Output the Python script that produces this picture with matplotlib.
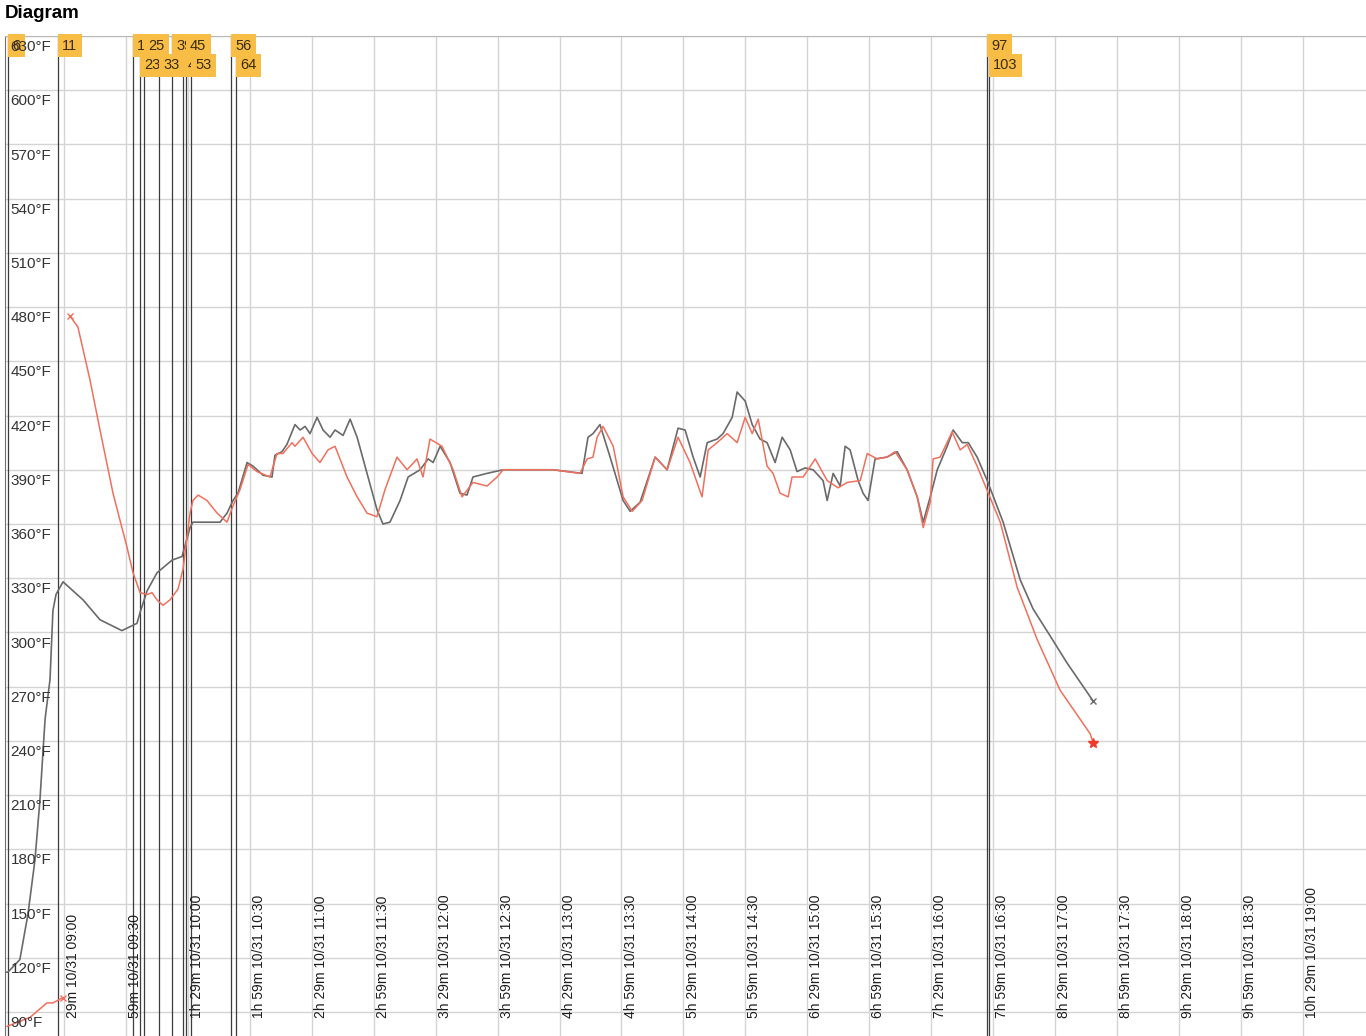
import numpy as np
import matplotlib
matplotlib.use("Agg")
import matplotlib.pyplot as plt
import matplotlib.transforms as mtransforms

plt.rcParams['font.family'] = ['Liberation Sans', 'DejaVu Sans']

# minutes since the log started (08:31 on 10/31), temperatures in degF
gray_min = [0.0, 1.9, 7.7, 11.6, 15.0, 17.4, 19.9, 22.3, 23.7, 25.2, 28.6, 38.3, 46.5, 57.1,
            64.4, 65.9, 69.3, 74.1, 81.4, 86.2, 90.1, 91.5, 104.6, 108.0, 110.9, 113.3,
            117.7, 120.6, 125.4, 129.8, 131.2, 134.6, 137.0, 140.9, 143.4, 145.8, 148.2,
            151.6, 154.5, 157.9, 160.3, 164.2, 167.6, 171.0, 175.8, 180.6, 183.5, 186.9,
            191.8, 195.7, 201.5, 205.4, 207.8, 211.2, 216.0, 220.8, 224.2, 227.1, 233.9,
            241.7, 265.9, 279.9, 282.8, 285.2, 288.6, 293.5, 299.8, 303.2, 308.0, 315.3,
            321.1, 326.4, 329.8, 333.7, 337.1, 340.5, 345.3, 348.2, 352.6, 355.0, 358.9,
            362.3, 366.1, 369.5, 373.4, 376.8, 380.7, 384.0, 387.9, 391.8, 396.6, 398.6,
            401.5, 404.9, 407.3, 409.7, 413.6, 416.0, 418.4, 421.8, 427.6, 432.5, 437.3,
            442.2, 445.1, 448.5, 451.9, 456.7, 459.6, 464.0, 466.9, 471.2, 476.1, 483.8,
            492.1, 498.3, 506.6, 514.8, 527.4]
gray_temp = [112, 112, 119, 144, 174, 207, 252, 274, 312, 321, 328, 318, 307, 301,
             305, 311, 323, 333, 340, 342, 358, 361, 361, 366, 373, 377,
             394, 392, 387, 386, 398, 400, 404, 415, 412, 414, 410,
             419, 412, 408, 412, 409, 418, 408, 388, 368, 360, 361,
             373, 386, 390, 396, 394, 403, 394, 377, 376, 386, 388,
             390, 390, 388, 408, 410, 415, 397, 373, 367, 372, 397,
             390, 413, 412, 397, 386, 405, 407, 410, 419, 433, 428,
             415, 407, 405, 394, 408, 401, 389, 391, 390, 384, 373,
             388, 381, 403, 401, 384, 377, 373, 396, 397, 400, 390,
             375, 361, 375, 390, 403, 412, 405, 405, 397, 384, 361,
             329, 313, 298, 283, 262]

red_min = [1.5, 12.6, 20.8, 23.7, 28.6, 30.0,
           32.0, 35.8, 41.6, 46.5, 52.8, 59.6, 62.5, 65.9, 69.3, 71.7, 74.1, 77.0,
           80.4, 84.3, 86.7, 90.1, 91.5, 94.0, 98.3, 103.2, 108.0, 110.9, 114.3,
           118.2, 122.5, 128.8, 132.2, 135.1, 139.5, 140.9, 144.8, 149.2, 153.0,
           156.9, 160.3, 162.7, 166.1, 171.0, 175.8, 180.6, 184.5, 190.3, 195.2,
           200.0, 202.9, 206.3, 212.1, 217.5, 221.8, 227.1, 233.9, 238.8, 241.7,
           265.9, 278.9, 282.4, 285.2, 287.2, 290.1, 295.0, 299.8, 304.2, 309.0,
           315.3, 321.1, 326.4, 332.2, 338.0, 341.0, 345.3, 350.2, 355.0, 358.9,
           362.3, 365.2, 369.5, 372.4, 375.8, 379.7, 381.6, 387.0, 392.8, 398.6,
           403.9, 408.3, 414.6, 418.0, 422.8, 427.6, 431.5, 437.3, 442.2, 445.1,
           448.5, 449.9, 453.3, 459.1, 463.0, 466.4, 471.2, 474.1, 482.4, 490.6,
           500.3, 511.4, 525.9, 527.4]
red_temp = [82, 87, 95, 95, 98, np.nan,
            475, 469, 440, 412, 377, 347, 333, 322, 321, 322, 318, 315,
            318, 324, 335, 366, 373, 376, 373, 366, 361, 370, 379,
            393, 389, 386, 399, 399, 405, 403, 408, 399, 394,
            401, 403, 396, 386, 375, 366, 364, 379, 397, 390,
            396, 386, 407, 403, 390, 375, 383, 381, 386, 390,
            390, 388, 396, 397, 408, 414, 403, 375, 367, 373,
            397, 390, 408, 394, 375, 401, 405, 410, 405, 419,
            410, 418, 392, 388, 377, 375, 386, 386, 396, 384,
            380, 383, 384, 399, 396, 397, 400, 390, 375, 358,
            372, 396, 397, 411, 401, 404, 392, 384, 361, 325,
            296, 268, 244, 239]

event_ids = ['6', '11', '19', '23', '25', '33', '39', '43', '45', '53', '56', '64', '97', '103']
event_min = [1.9, 26.2, 62.5, 65.9, 67.8, 75.1, 81.4, 86.7, 88.1, 90.6, 109.9, 112.4, 476.1, 477.0]
event_row = [0, 0, 0, 1, 0, 1, 0, 1, 0, 1, 0, 1, 0, 1]

tick_min = [29 + 30 * k for k in range(21)]
tick_labels = ['29m 10/31 09:00', '59m 10/31 09:30', '1h 29m 10/31 10:00', '1h 59m 10/31 10:30',
               '2h 29m 10/31 11:00', '2h 59m 10/31 11:30', '3h 29m 10/31 12:00',
               '3h 59m 10/31 12:30', '4h 29m 10/31 13:00', '4h 59m 10/31 13:30',
               '5h 29m 10/31 14:00', '5h 59m 10/31 14:30', '6h 29m 10/31 15:00',
               '6h 59m 10/31 15:30', '7h 29m 10/31 16:00', '7h 59m 10/31 16:30',
               '8h 29m 10/31 17:00', '8h 59m 10/31 17:30', '9h 29m 10/31 18:00',
               '9h 59m 10/31 18:30', '10h 29m 10/31 19:00']
temp_ticks = list(range(90, 631, 30))

fig = plt.figure(figsize=(13.66, 10.36), dpi=100)
fig.text(5 / 1366, 1 - 13 / 1036, 'Diagram', fontsize=13.5, fontweight='bold', va='center', ha='left')

ax = fig.add_axes([5 / 1366, 0, 1361 / 1366, 1000 / 1036])
ax.set_xlim(0.5, 659.5)
ax.set_ylim(76.7, 630)
ax.set_xticks(tick_min)
ax.set_yticks(temp_ticks)
ax.tick_params(length=0, labelbottom=False, labelleft=False)
ax.grid(True, color='#d4d4d4', lw=1.0)
ax.set_axisbelow(True)
for side in ['right', 'bottom']:
    ax.spines[side].set_visible(False)
ax.spines['top'].set_color('#b8b8b8')
ax.spines['left'].set_color('#707070')

# event markers
for em in event_min:
    ax.axvline(em, color='#3c3c3c', lw=0.9, zorder=2)

blend_x = mtransforms.blended_transform_factory(ax.transData, ax.transAxes)
blend_y = mtransforms.blended_transform_factory(ax.transAxes, ax.transData)

ax.plot(gray_min, gray_temp, color='#6a6a6a', lw=1.2, zorder=3)
ax.plot(red_min, red_temp, color='#f0705e', lw=1.1, zorder=4)
ax.plot([gray_min[-1]], [gray_temp[-1]], marker='x', color='#6a6a6a', ms=4, mew=1, zorder=5)
ax.plot([red_min[4], red_min[6]], [red_temp[4], red_temp[6]], ls='none', marker='x',
        color='#f0705e', ms=4, mew=1, zorder=5)
ax.plot([red_min[-1]], [red_temp[-1]], marker='*', color='#ee3b2b', ms=7, zorder=5)

for v in temp_ticks:
    ax.annotate(f'{v}°F', xy=(0, v), xycoords=blend_y, xytext=(4, -3), textcoords='offset points',
                ha='left', va='top', fontsize=11, color='#333333', zorder=8)

for tm, lab in zip(tick_min, tick_labels):
    ax.annotate(lab, xy=(tm, 0), xycoords=blend_x, xytext=(1.5, 13), textcoords='offset points',
                rotation=90, ha='left', va='bottom', fontsize=10, color='#1e1e1e', zorder=6)

for eid, em, row in zip(event_ids, event_min, event_row):
    ax.annotate(eid, xy=(em, 1), xycoords=blend_x, xytext=(3, -2 - 14 * row), textcoords='offset points',
                ha='left', va='top', fontsize=10.5, color='#3a2c14', zorder=7,
                bbox=dict(boxstyle='square,pad=0.3', fc='#f8bd45', ec='none'))

fig.savefig('out.png', dpi=100)
